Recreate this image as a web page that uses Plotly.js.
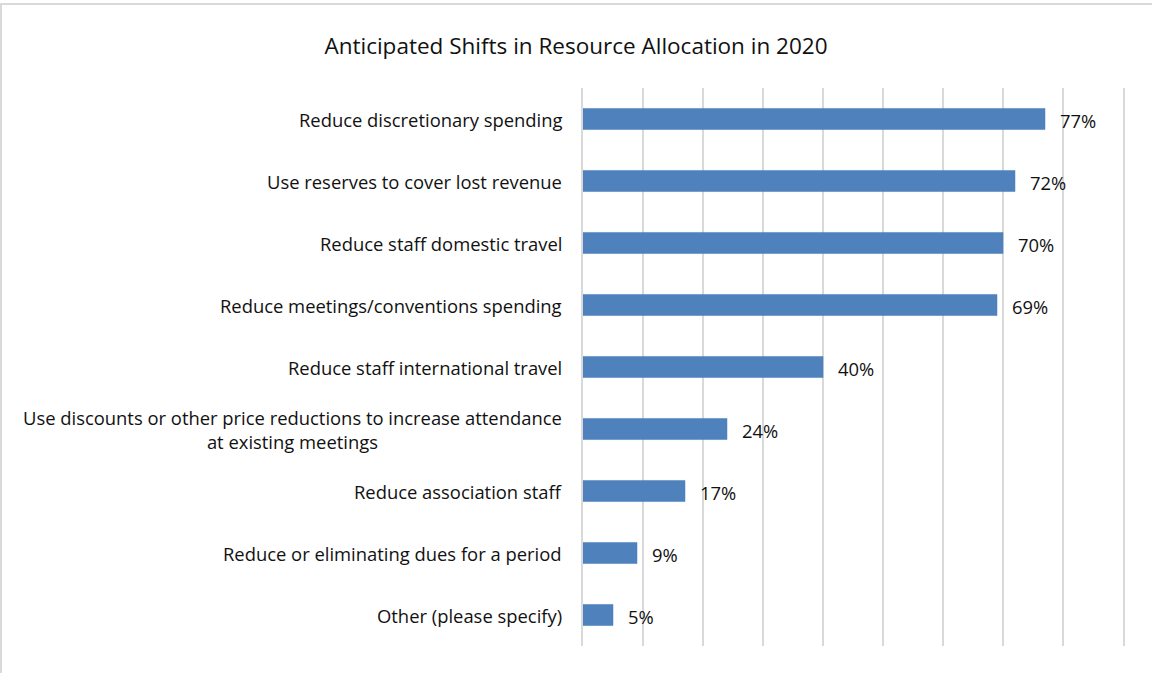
<!DOCTYPE html>
<html>
<head>
<meta charset="utf-8">
<script src="https://cdn.plot.ly/plotly-3.0.1.min.js"></script>
<style>
  html, body { margin: 0; padding: 0; background: #fff; }
  #wrap { position: relative; width: 1152px; height: 673px; }
  #chart { width: 1152px; height: 673px; }
  #frame { position: absolute; left: 0; top: 3px; width: 1152px; height: 670px;
           border-left: 2px solid #d9d9d9; border-top: 2px solid #d9d9d9;
           box-sizing: border-box; pointer-events: none; }
</style>
</head>
<body>
<div id="wrap">
  <div id="chart"></div>
  <div id="frame"></div>
</div>
<script>
const categories = [
  "Reduce discretionary spending",
  "Use reserves to cover lost revenue",
  "Reduce staff domestic travel",
  "Reduce meetings/conventions spending",
  "Reduce staff international travel",
  "Use discounts or other price reductions to increase attendance<br>at existing meetings",
  "Reduce association staff",
  "Reduce or eliminating dues for a period",
  "Other (please specify)"
];
const values = [77, 72, 70, 69, 40, 24, 17, 9, 5];
const valueLabels = ["77%", "72%", "70%", "69%", "40%", "24%", "17%", "9%", "5%"];

const FONT = "'Open Sans', sans-serif";
const annotations = [];
categories.forEach((c, i) => {
  annotations.push({
    x: 0, xref: "paper", y: c, yref: "y",
    text: c, showarrow: false, xanchor: "right", yanchor: "middle",
    align: "center", xshift: -19,
    font: { family: FONT, size: 18.4, color: "#111" }
  });
  annotations.push({
    x: values[i], xref: "x", y: c, yref: "y",
    text: valueLabels[i], showarrow: false, xanchor: "left", yanchor: "middle",
    xshift: 13, yshift: -1,
    font: { family: FONT, size: 18.4, color: "#111" }
  });
});

const trace = {
  type: "bar",
  orientation: "h",
  x: values,
  y: categories,
  width: 0.34,
  marker: { color: "#4f81bd", line: { color: "#4a7ebb", width: 0.5 } },
  hoverinfo: "none"
};

const layout = {
  width: 1152, height: 673,
  margin: { l: 583, r: 29, t: 88, b: 27 },
  paper_bgcolor: "#fff", plot_bgcolor: "#fff",
  title: { text: "Anticipated Shifts in Resource Allocation in 2020",
           font: { family: FONT, size: 22.5, color: "#111" },
           x: 0.5, xanchor: "center", xref: "container",
           y: 0.932, yanchor: "middle" },
  xaxis: { range: [0, 90], dtick: 10, tick0: 0, showticklabels: false,
           showgrid: true, gridcolor: "#d9d9d9", gridwidth: 2,
           zeroline: false, showline: false, fixedrange: true },
  yaxis: { type: "category", showticklabels: false,
           showgrid: false, zeroline: false, ticks: "",
           showline: true, mirror: true, linecolor: "#d9d9d9", linewidth: 2,
           range: [8.5, -0.5] },
  showlegend: false,
  annotations: annotations
};

Plotly.newPlot("chart", [trace], layout, { displayModeBar: false, staticPlot: true });
</script>
</body>
</html>
